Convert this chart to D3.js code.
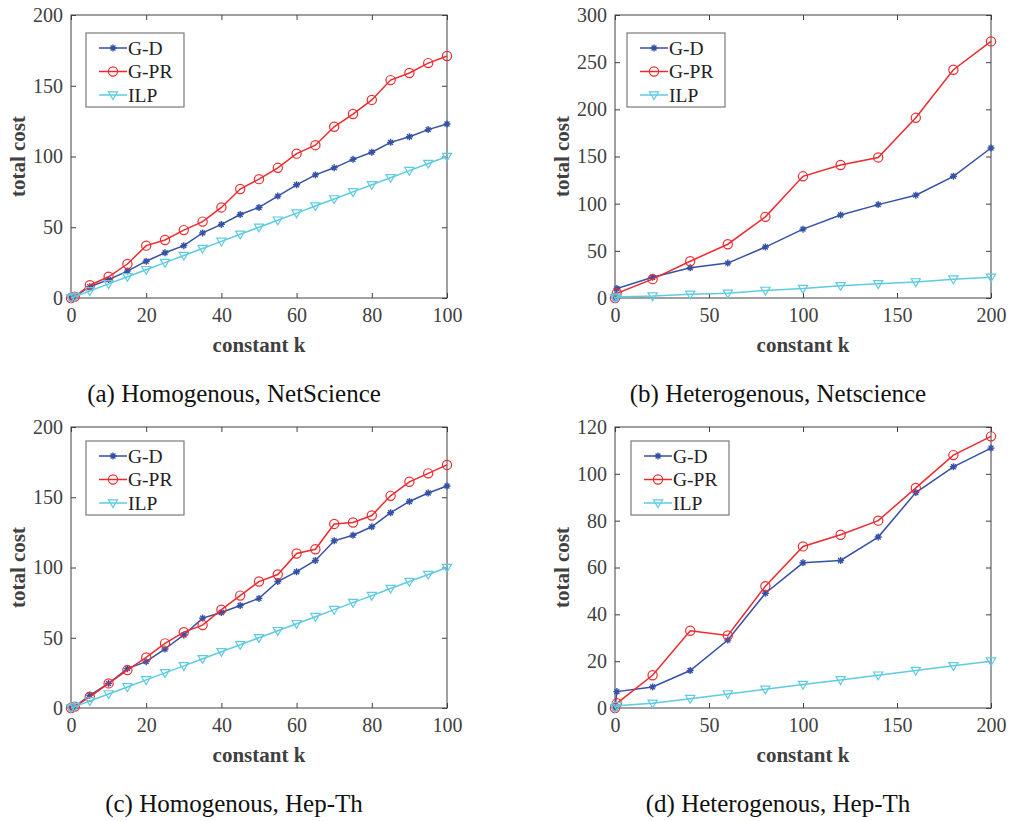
<!DOCTYPE html>
<html>
<head>
<meta charset="utf-8">
<script src="https://cdn.jsdelivr.net/npm/d3@7"></script>
<style>
  body { margin: 0; background: #fff; }
  svg text { font-family: "Liberation Serif", Tinos, Times, "Times New Roman", "DejaVu Serif", serif; }
</style>
</head>
<body>
<div id="chart"></div>
<script>
// Total cost vs constant k, four panels

// k values used on the x axis
const kHomo = [0, 1, 5, 10, 15, 20, 25, 30, 35, 40, 45, 50, 55, 60, 65, 70, 75, 80, 85, 90, 95, 100];
const kHetero = [0, 1, 20, 40, 60, 80, 100, 120, 140, 160, 180, 200];

// (a) Homogenous, NetScience
const netHomoGD  = [0, 1, 8, 13, 19, 26, 32, 37, 46, 52, 59, 64, 72, 80, 87, 92, 98, 103, 110, 114, 119, 123];
const netHomoGPR = [0, 1, 9, 15, 24, 37, 41, 48, 54, 64, 77, 84, 92, 102, 108, 121, 130, 140, 154, 159, 166, 171];
const netHomoILP = [0, 1, 5, 10, 15, 20, 25, 30, 35, 40, 45, 50, 55, 60, 65, 70, 75, 80, 85, 90, 95, 100];

// (b) Heterogenous, Netscience
const netHeteroGD  = [0, 10, 22, 32, 37, 54, 73, 88, 99, 109, 129, 159];
const netHeteroGPR = [0, 5, 20, 39, 57, 86, 129, 141, 149, 191, 242, 272];
const netHeteroILP = [0, 1, 2, 4, 5, 8, 10, 13, 15, 17, 20, 22];

// (c) Homogenous, Hep-Th
const hepHomoGD  = [0, 1, 9, 17.5, 28, 33, 42, 52, 64, 68, 73, 78, 90, 97, 105, 119, 123, 129, 139, 147, 153, 158];
const hepHomoGPR = [0, 1, 8, 17.5, 27, 36, 46, 54, 59, 70, 80, 90, 95, 110, 113, 131, 132, 137, 151, 161, 167, 173];
const hepHomoILP = [0, 1, 5, 10, 15, 20, 25, 30, 35, 40, 45, 50, 55, 60, 65, 70, 75, 80, 85, 90, 95, 100];

// (d) Heterogenous, Hep-Th
const hepHeteroGD  = [0, 7, 9, 16, 29, 49, 62, 63, 73, 92, 103, 111];
const hepHeteroGPR = [0, 2, 14, 33, 31, 52, 69, 74, 80, 94, 108, 116];
const hepHeteroILP = [0, 1, 2, 4, 6, 8, 10, 12, 14, 16, 18, 20];

// tick labels
const xTicksHomo = [0, 20, 40, 60, 80, 100];
const xTicksHetero = [0, 50, 100, 150, 200];
const yTicks200 = [0, 50, 100, 150, 200];
const yTicks300 = [0, 50, 100, 150, 200, 250, 300];
const yTicks120 = [0, 20, 40, 60, 80, 100, 120];

const seriesNames = ["G-D", "G-PR", "ILP"];
const captions = ["(a) Homogenous, NetScience", "(b) Heterogenous, Netscience",
                  "(c) Homogenous, Hep-Th", "(d) Heterogenous, Hep-Th"];

// styling
const colors = {"G-D": "#3451a6", "G-PR": "#ee2a2e", "ILP": "#5ecbe0"};
const axisColor = "#404040";
const serif = "'Liberation Serif', Tinos, Times, 'Times New Roman', 'DejaVu Serif', serif";

const W = 1010, H = 821;
const svg = d3.select("#chart").append("svg")
  .attr("width", W)
  .attr("height", H);

// panel layout (pixel boxes of each plot area)
const panels = [
  {box: [71, 15, 447, 298], k: kHomo, xMax: 100, yMax: 200, xTicks: xTicksHomo, yTicks: yTicks200,
   series: [netHomoGD, netHomoGPR, netHomoILP], caption: captions[0], capX: 234, legend: [86, 33]},
  {box: [615, 15, 991, 298], k: kHetero, xMax: 200, yMax: 300, xTicks: xTicksHetero, yTicks: yTicks300,
   series: [netHeteroGD, netHeteroGPR, netHeteroILP], caption: captions[1], capX: 778, legend: [627, 33]},
  {box: [71, 427, 447, 708], k: kHomo, xMax: 100, yMax: 200, xTicks: xTicksHomo, yTicks: yTicks200,
   series: [hepHomoGD, hepHomoGPR, hepHomoILP], caption: captions[2], capX: 234, legend: [86, 441]},
  {box: [615, 427, 991, 708], k: kHetero, xMax: 200, yMax: 120, xTicks: xTicksHetero, yTicks: yTicks120,
   series: [hepHeteroGD, hepHeteroGPR, hepHeteroILP], caption: captions[3], capX: 778, legend: [631, 441]}
];

// marker drawing
function drawMarker(g, name, color) {
  if (name === "G-D") {
    const r = 3.5;
    g.append("path")
      .attr("d", `M${-r},0L${r},0M0,${-r}L0,${r}M${-r*0.7},${-r*0.7}L${r*0.7},${r*0.7}M${-r*0.7},${r*0.7}L${r*0.7},${-r*0.7}`)
      .attr("stroke", color).attr("stroke-width", 1.4).attr("fill", "none");
  } else if (name === "G-PR") {
    g.append("circle").attr("r", 4.6)
      .attr("stroke", color).attr("stroke-width", 1.2).attr("fill", "none");
  } else {
    g.append("path").attr("d", "M-4.6,-3.2L4.6,-3.2L0,4.6Z")
      .attr("stroke", color).attr("stroke-width", 1.2).attr("fill", "none");
  }
}

panels.forEach(p => {
  const [x0, y0, x1, y1] = p.box;
  const x = d3.scaleLinear().domain([0, p.xMax]).range([x0, x1]);
  const y = d3.scaleLinear().domain([0, p.yMax]).range([y1, y0]);
  const g = svg.append("g").attr("font-family", serif);

  // axes with inward ticks on all four sides
  const tickLen = 5;
  g.append("g").attr("transform", `translate(0,${y1})`)
    .call(d3.axisBottom(x).tickValues(p.xTicks).tickSizeInner(-tickLen).tickSizeOuter(0).tickPadding(10))
    .call(a => a.selectAll("text").attr("font-size", 20).attr("fill", axisColor));
  g.append("g").attr("transform", `translate(0,${y0})`)
    .call(d3.axisTop(x).tickValues(p.xTicks).tickSizeInner(-tickLen).tickSizeOuter(0).tickFormat(""));
  g.append("g").attr("transform", `translate(${x0},0)`)
    .call(d3.axisLeft(y).tickValues(p.yTicks).tickSizeInner(-tickLen).tickSizeOuter(0).tickPadding(8))
    .call(a => a.selectAll("text").attr("font-size", 20).attr("fill", axisColor));
  g.append("g").attr("transform", `translate(${x1},0)`)
    .call(d3.axisRight(y).tickValues(p.yTicks).tickSizeInner(-tickLen).tickSizeOuter(0).tickFormat(""));
  g.selectAll(".domain").remove();
  g.selectAll(".tick line").attr("stroke", axisColor);
  g.selectAll("g").attr("font-family", serif);

  // frame
  g.append("rect")
    .attr("x", x0).attr("y", y0).attr("width", x1 - x0).attr("height", y1 - y0)
    .attr("fill", "none").attr("stroke", axisColor).attr("stroke-width", 1);

  // axis labels
  g.append("text")
    .attr("x", (x0 + x1) / 2).attr("y", y1 + 54)
    .attr("text-anchor", "middle").attr("font-size", 21).attr("font-weight", "bold")
    .attr("fill", axisColor).text("constant k");
  g.append("text")
    .attr("transform", `translate(${x0 - 46},${(y0 + y1) / 2}) rotate(-90)`)
    .attr("text-anchor", "middle").attr("font-size", 21).attr("font-weight", "bold")
    .attr("fill", axisColor).text("total cost");

  // caption
  g.append("text")
    .attr("x", p.capX).attr("y", y1 + 104)
    .attr("text-anchor", "middle").attr("font-size", 25)
    .attr("fill", "#111").text(p.caption);

  // lines and markers
  const line = d3.line().x(d => x(d.k)).y(d => y(d.v));
  seriesNames.forEach((name, i) => {
    const data = p.k.map((k, j) => ({k: k, v: p.series[i][j]}));
    g.append("path")
      .datum(data)
      .attr("fill", "none")
      .attr("stroke", colors[name])
      .attr("stroke-width", 1.5)
      .attr("d", line);
    g.selectAll(null)
      .data(data)
      .enter()
      .append("g")
        .attr("transform", d => `translate(${x(d.k)},${y(d.v)})`)
        .each(function() { drawMarker(d3.select(this), name, colors[name]); });
  });

  // legend
  const [lx, ly] = p.legend;
  const leg = g.append("g").attr("transform", `translate(${lx},${ly})`);
  leg.append("rect")
    .attr("width", 98).attr("height", 74)
    .attr("fill", "#fff").attr("stroke", "#7a7a7a").attr("stroke-width", 1.2);
  seriesNames.forEach((name, i) => {
    const cy = 15 + i * 23.5;
    leg.append("line")
      .attr("x1", 13).attr("x2", 41).attr("y1", cy).attr("y2", cy)
      .attr("stroke", colors[name]).attr("stroke-width", 1.5);
    drawMarker(leg.append("g").attr("transform", `translate(27,${cy})`), name, colors[name]);
    leg.append("text")
      .attr("x", 42).attr("y", cy + 6.5)
      .attr("font-size", 19.5).attr("fill", "#222").text(name);
  });
});
</script>
</body>
</html>
